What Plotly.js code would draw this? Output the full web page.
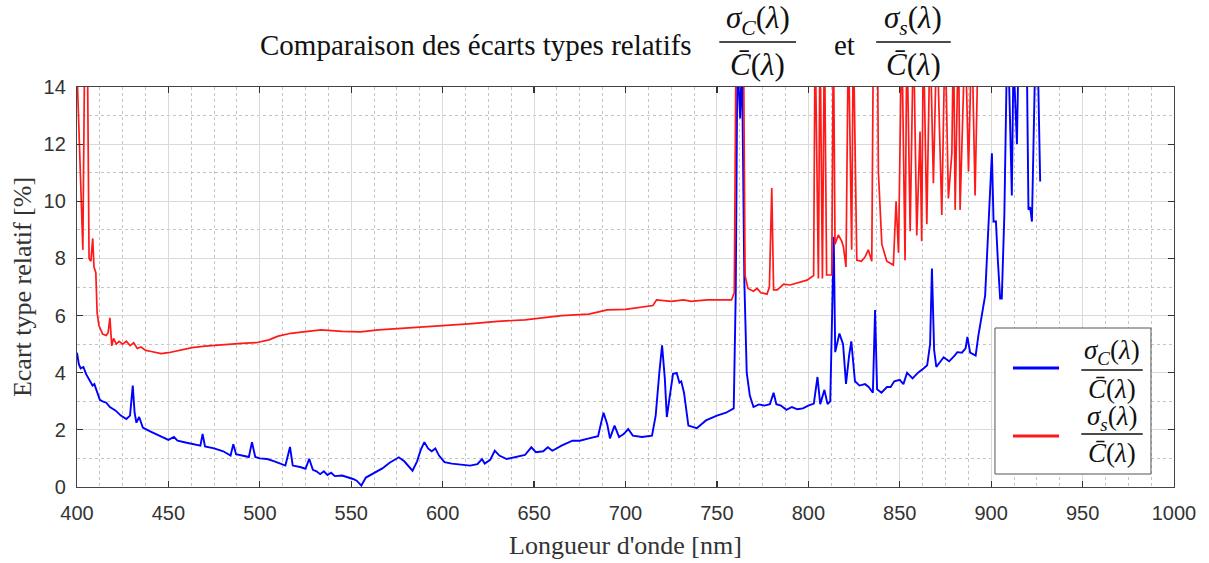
<!DOCTYPE html>
<html>
<head>
<meta charset="utf-8">
<script src="https://cdn.plot.ly/plotly-3.0.1.min.js"></script>
<style>html,body{margin:0;padding:0;background:#fff;}#chart{width:1209px;height:563px;}</style>
</head>
<body>
<div id="chart"></div>
<script>
// ---- data ----
const wlBlue = [400,401,402,403.5,405,407,408.5,409.5,411,412.5,414,416,418,421,424,427,429,430.5,431.5,432.5,434,436,440,445,450,453,455,460,465,467.5,468.7,470,475,480,484,485.5,487,491,494,495.7,497.5,500,504,508,512,514,516.5,518,522,525,527,529,531,533,535,537,539,541,545,548,551,553,555.5,558,560,563.5,567,571,576,579,583.5,586,588,590,592,594,596,598,601,605,610,615,619,621.5,623,626,628.5,631,635,640,645,648.5,651,655,657.5,660,665,671,675,680,685,686.5,688,690,691.5,694,696.5,699,701.5,704,709,714.5,716.5,718.5,720,721.5,722.6,724.5,726,728,729.5,730.5,732,734.4,737,739,744,750,755,757.5,759.2,760.3,761.2,762.7,763.7,765,766.3,768,770,773,776,779,781,782.5,785,788,791,794,797,800,803,805,806.5,808.8,810.5,812,813.2,813.9,814.7,817,819,820.6,822.3,823.5,825.5,828,831,833,835.3,836.5,837.6,840,843,845,847,850,852,854,857,860,863,865,866.6,867.6,868.8,870,874,877,880,881.5,884,886,887,888.5,891.5,893,896.7,899.3,900.4,901.3,902.6,903.6,904.9,905.8,907.2,908.6,909.5,911.3,912.2,914.1,914.9,919.5,920.4,921.3,922.3,924.1,925.5,926.8];
const sigmaC = [4.7,4.3,4.15,4.2,3.95,3.7,3.55,3.6,3.3,3.05,3.0,2.95,2.8,2.68,2.5,2.38,2.5,3.55,2.6,2.25,2.45,2.08,1.95,1.8,1.65,1.75,1.62,1.55,1.48,1.45,1.86,1.42,1.35,1.25,1.1,1.5,1.15,1.1,1.05,1.57,1.05,1.0,0.98,0.9,0.8,0.75,1.4,0.75,0.7,0.64,0.99,0.6,0.55,0.45,0.55,0.42,0.5,0.38,0.4,0.35,0.28,0.22,0.05,0.33,0.4,0.51,0.65,0.85,1.04,0.9,0.57,0.9,1.3,1.57,1.35,1.25,1.35,1.1,0.87,0.82,0.78,0.75,0.8,0.98,0.82,0.95,1.27,1.1,0.98,1.04,1.12,1.39,1.22,1.25,1.39,1.27,1.45,1.62,1.62,1.7,1.78,2.2,2.6,2.2,1.7,2.15,1.75,1.85,2.03,1.8,1.75,1.8,2.5,4.0,4.96,3.8,2.45,3.3,3.96,3.99,3.65,3.7,3.3,2.15,2.1,2.06,2.33,2.5,2.6,2.7,2.75,6.83,15,12.9,15,7.2,4.0,3.2,2.8,2.89,2.85,2.9,3.3,2.9,2.85,2.7,2.8,2.72,2.75,2.85,2.92,3.85,2.9,3.4,2.9,3.0,6.0,8.76,4.72,5.37,5.0,3.61,4.6,5.1,3.7,3.55,3.6,3.5,3.3,6.19,3.42,3.3,3.5,3.5,3.7,3.75,3.6,4.0,3.8,4.0,4.15,4.26,5.0,7.65,4.8,4.2,4.54,4.4,4.6,4.72,4.7,4.85,5.25,4.7,4.6,5.3,6.7,10.0,11.68,9.29,9.3,8.0,6.6,6.6,9.5,15,15,10.2,15,12.0,15,15,9.7,9.8,9.29,15,15,10.69];

const wlRed = [400,403.2,404.3,405.6,406.6,407.6,408.6,409.3,410.3,411,412,413,414,416,417,418,419,420,421.5,423,425,427,429,431,433,435,437.6,440,443,446,450,455,463,470,481.5,490,498,505,510,517,525,533.6,545,555,565,575,589,600,616,630,645,651,665,680,686,690,700,708,715,717,719,725,731.7,736,740,745,750,755,758,759.5,760.5,764.5,765.4,767,770,772,774,777.4,778.7,780,781,783,786.5,790,795,799.3,802.9,803.7,805.5,806.4,807.7,808.8,810,812.8,813.7,814.6,816.4,818.3,819.2,820.6,821.9,823.7,824.6,826.5,829,831,832.8,834.7,835.6,837.8,838.3,840.2,842.9,846.5,848,849.3,851.1,852.9,853.9,855.7,857.5,859.3,861.1,862,862.9,864.8,866.6,868.4,870.3,873,874.8,876.6,878.5,879.4,880.3,882.1,883,885.8,887.6,889.4,891.2,893,894];
const sigmaS = [14.6,8.3,16,16,8.0,7.9,8.7,7.7,7.5,6.1,5.65,5.5,5.35,5.3,5.4,5.92,4.94,5.2,5.0,5.1,5.0,5.1,4.95,5.05,4.85,4.9,4.78,4.75,4.7,4.67,4.7,4.77,4.88,4.93,5.0,5.03,5.05,5.15,5.28,5.38,5.44,5.5,5.45,5.43,5.5,5.55,5.6,5.65,5.72,5.8,5.85,5.9,6.0,6.05,6.13,6.2,6.22,6.3,6.35,6.55,6.54,6.5,6.55,6.5,6.52,6.55,6.55,6.55,6.55,6.8,16,16,7.4,6.95,6.85,6.95,6.8,6.75,7.0,10.46,6.9,6.9,7.1,7.07,7.15,7.24,7.4,16,7.3,16,7.3,16,7.42,7.42,16,8.5,8.82,8.6,8.4,7.7,16,8.3,16,7.94,7.9,8.05,8.3,7.9,16,16,11.04,8.5,7.9,7.77,10.0,8.2,16,7.94,16,8.95,16,8.8,12.44,8.6,16,9.2,16,10.63,16,9.52,16,10.1,11.68,16,9.7,16,9.7,16,11.04,16,10.2,16];

const xTicks = [400,450,500,550,600,650,700,750,800,850,900,950,1000];
const yTicks = [0,2,4,6,8,10,12,14];

const titleText = "Comparaison des écarts types relatifs";
const xTitle = "Longueur d'onde [nm]";
const yTitle = "Ecart type relatif [%]";
const numC = "<i>σ</i><sub><i>C</i></sub>(<i>λ</i>)";
const numS = "<i>σ</i><sub><i>s</i></sub>(<i>λ</i>)";
const denC = "<i>C\u0304</i>(<i>λ</i>)";
const etText = "et";

// ---- figure ----
const traces = [
  {x: wlBlue, y: sigmaC, type: 'scatter', mode: 'lines', line: {color: 'rgb(0,0,255)', width: 1.9}, name: 'sigmaC', showlegend: false},
  {x: wlRed, y: sigmaS, type: 'scatter', mode: 'lines', line: {color: 'rgb(255,25,25)', width: 1.7}, name: 'sigmaS', showlegend: false}
];

const mathFont = {family: 'Liberation Serif', size: 31, color: '#111'};
const legFont = {family: 'Liberation Serif', size: 27, color: '#111'};

function frac(xc, yNum, yBar, yDen, halfW, num, font) {
  return {
    ann: [
      {xref: 'paper', yref: 'paper', x: xc, y: yNum, text: num, showarrow: false, font: font, xanchor: 'center', yanchor: 'middle'},
      {xref: 'paper', yref: 'paper', x: xc, y: yDen, text: denC, showarrow: false, font: font, xanchor: 'center', yanchor: 'middle'}
    ],
    shape: {type: 'line', xref: 'paper', yref: 'paper', x0: xc - halfW, x1: xc + halfW, y0: yBar, y1: yBar, line: {color: '#111', width: 1.6}, layer: 'above'}
  };
}

const f1 = frac(0.6205, 1.167, 1.1125, 1.057, 0.035, numC, mathFont);
const f2 = frac(0.7625, 1.167, 1.1125, 1.057, 0.034, numS, mathFont);
const l1 = frac(0.9435, 0.337, 0.2925, 0.245, 0.028, numC, legFont);
const l2 = frac(0.9435, 0.173, 0.1325, 0.085, 0.028, numS, legFont);

const shapes = [
  {type: 'rect', xref: 'paper', yref: 'paper', x0: 0.8368, x1: 0.979, y0: 0.0325, y1: 0.3975, fillcolor: '#fff', line: {color: '#555', width: 1}, layer: 'above'},
  {type: 'line', xref: 'paper', yref: 'paper', x0: 0.8532, x1: 0.8952, y0: 0.2975, y1: 0.2975, line: {color: 'rgb(0,0,255)', width: 2.8}, layer: 'above'},
  {type: 'line', xref: 'paper', yref: 'paper', x0: 0.8532, x1: 0.8952, y0: 0.1275, y1: 0.1275, line: {color: 'rgb(255,25,25)', width: 2.8}, layer: 'above'},
  f1.shape, f2.shape, l1.shape, l2.shape
];

const annotations = [
  {xref: 'paper', yref: 'paper', x: 0.3637, y: 1.105, text: titleText, showarrow: false, font: {family: 'Liberation Serif', size: 29, color: '#111'}, xanchor: 'center', yanchor: 'middle'},
  {xref: 'paper', yref: 'paper', x: 0.6995, y: 1.105, text: etText, showarrow: false, font: {family: 'Liberation Serif', size: 29, color: '#111'}, xanchor: 'center', yanchor: 'middle'}
].concat(f1.ann, f2.ann, l1.ann, l2.ann);

const axisCommon = {
  ticks: 'inside', ticklen: 6, tickwidth: 1.2, tickcolor: '#333',
  showline: true, linecolor: '#444', linewidth: 1.2, mirror: 'allticks',
  showgrid: true, gridcolor: '#dadada', gridwidth: 1, zeroline: false,
  tickfont: {family: 'Liberation Sans', size: 20, color: '#333'}
};

const layout = {
  width: 1209, height: 563,
  margin: {l: 77, r: 35, t: 87, b: 76},
  paper_bgcolor: '#fff', plot_bgcolor: '#fff',
  showlegend: false,
  xaxis: Object.assign({}, axisCommon, {
    range: [400, 1000], tickmode: 'array', tickvals: xTicks, ticktext: xTicks.map(String),
    ticklabelstandoff: 8,
    minor: {dtick: 12.5, tick0: 400, showgrid: true, griddash: 'dot', gridcolor: '#c4c4c4', gridwidth: 1},
    title: {text: xTitle, font: {family: 'Liberation Serif', size: 26, color: '#333'}, standoff: 12}
  }),
  yaxis: Object.assign({}, axisCommon, {
    range: [0, 14], tickmode: 'array', tickvals: yTicks, ticktext: yTicks.map(String),
    ticklabelstandoff: 6,
    minor: {dtick: 1, tick0: 0, showgrid: true, griddash: 'dot', gridcolor: '#c4c4c4', gridwidth: 1},
    title: {text: yTitle, font: {family: 'Liberation Serif', size: 26, color: '#333'}, standoff: 4}
  }),
  shapes: shapes,
  annotations: annotations
};

Plotly.newPlot('chart', traces, layout, {displayModeBar: false, staticPlot: true});
</script>
</body>
</html>
